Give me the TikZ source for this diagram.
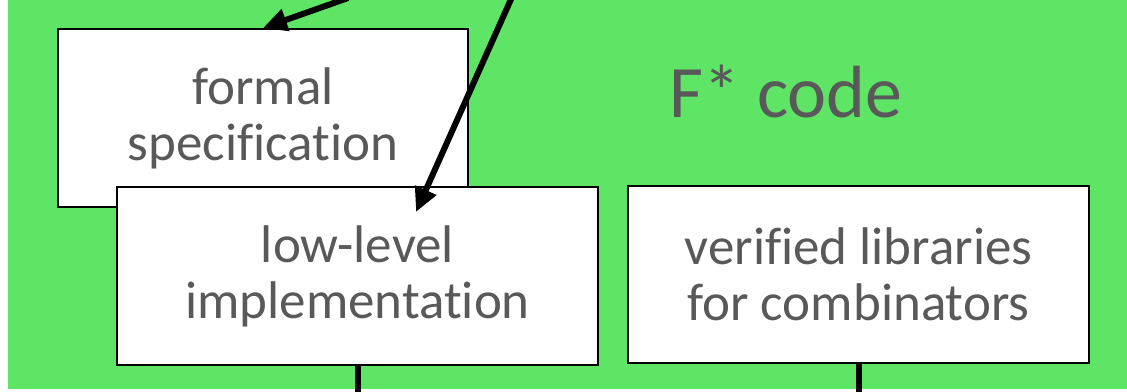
\documentclass[tikz,border=0pt]{standalone}
\usepackage{fontspec}
\setmainfont{Carlito}[Ligatures={NoCommon,NoRequired,NoContextual}]
\usetikzlibrary{arrows.meta}
\definecolor{panelgreen}{RGB}{94,229,101}
\definecolor{textgray}{RGB}{89,89,89}
\tikzset{
  box/.style={draw=black, line width=2pt, fill=white, text=textgray,
    align=center, inner sep=0pt, font=\fontsize{53}{56}\selectfont},
  flow/.style={line width=6pt, -{Triangle[length=24pt,width=22pt]}},
  link/.style={line width=6pt}
}
\begin{document}
\begin{tikzpicture}[x=1pt,y=-1pt]
  \useasboundingbox (0,0) rectangle (1127,391);
  % green panel holding the F* code
  \fill[panelgreen] (8,0) rectangle (1127,389);
  \node[text=textgray, font=\fontsize{74}{80}\selectfont] (title) at (786,91) {F* code};

  \node[box, minimum width=410pt, minimum height=178pt] (spec) at (263,118) {formal\\specification};
  \node[box, minimum width=481pt, minimum height=178pt] (impl) at (357.5,276) {low-level\\implementation};
  \node[box, minimum width=461pt, minimum height=177pt] (libs) at (858.5,274.5) {verified libraries\\for combinators};

  % incoming arrows from above
  \coordinate (srcA) at (348,-2);
  \coordinate (srcB) at (512,-3);
  \coordinate (tipB) at (416,212);
  \draw[flow] (srcA) -- (spec.north);
  \draw[flow] (srcB) -- (tipB);

  % outgoing links below
  \coordinate (outA) at (impl.south |- 0,395);
  \coordinate (outB) at (libs.south |- 0,395);
  \draw[link] (impl.south) -- (outA);
  \draw[link] (libs.south) -- (outB);
\end{tikzpicture}
\end{document}
